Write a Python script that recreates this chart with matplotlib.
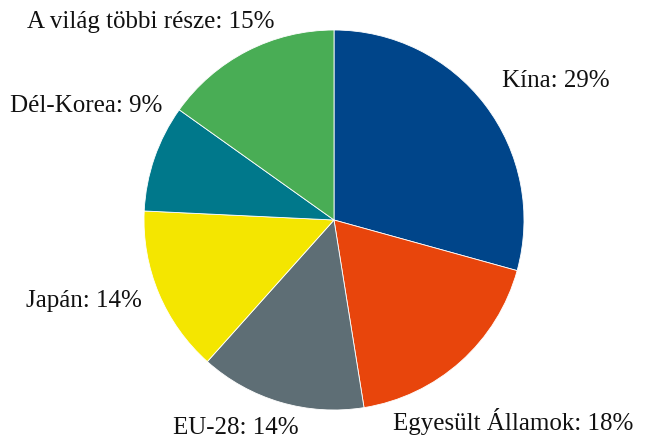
import matplotlib
matplotlib.use('Agg')
import matplotlib.pyplot as plt

labels = ['Kína', 'Egyesült Államok', 'EU-28', 'Japán', 'Dél-Korea', 'A világ többi része']
shares = [29, 18, 14, 14, 9, 15]
colors = ['#00458a', '#e8450c', '#5e6e75', '#f4e600', '#00788b', '#49ad55']

# label anchor (left x, baseline y) in pie-radius units
label_pos = [(0.884, 0.700), (0.311, -1.105), (-0.847, -1.126),
             (-1.621, -0.458), (-1.705, 0.568), (-1.616, 1.011)]

fig = plt.figure(figsize=(6.46, 4.41), dpi=100)
ax = fig.add_axes([0, 0, 1, 1])

ax.pie(shares, colors=colors, startangle=90, counterclock=False, radius=1,
       wedgeprops=dict(edgecolor='white', linewidth=0.6))

for lab, val, (x, y) in zip(labels, shares, label_pos):
    ax.text(x, y, f'{lab}: {val}%', ha='left', va='baseline', fontsize=18,
            family='Liberation Serif', color='#111111')

ax.set_xlim(-334 / 190, 312 / 190)
ax.set_ylim(-221 / 190, 220 / 190)
ax.set_aspect('auto')
ax.axis('off')

fig.savefig('out.png', dpi=100)
